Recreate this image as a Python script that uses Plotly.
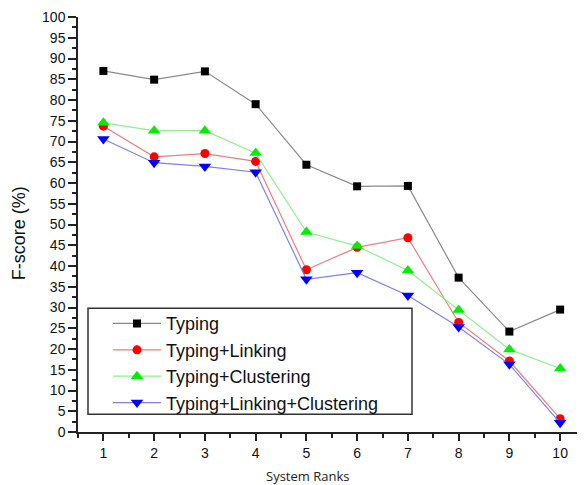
import plotly.graph_objects as go

ranks = [1, 2, 3, 4, 5, 6, 7, 8, 9, 10]
typing = [87.0, 84.9, 86.9, 79.0, 64.4, 59.2, 59.3, 37.2, 24.2, 29.5]
typing_linking = [73.7, 66.3, 67.1, 65.2, 39.1, 44.5, 46.8, 26.4, 17.1, 3.2]
typing_clustering = [74.5, 72.6, 72.6, 67.2, 48.2, 44.8, 38.9, 29.4, 19.9, 15.3]
typing_linking_clustering = [70.6, 64.9, 64.0, 62.6, 36.8, 38.4, 32.9, 25.3, 16.3, 2.2]

names = ["Typing", "Typing+Linking", "Typing+Clustering", "Typing+Linking+Clustering"]
series = [typing, typing_linking, typing_clustering, typing_linking_clustering]
marker_colors = ["#000000", "#ff0000", "#00ee00", "#0000ff"]
line_colors = ["#8a8a8a", "#e88080", "#90ee90", "#8080e8"]
symbols = ["square", "circle", "triangle-up", "triangle-down"]
sizes = [8, 9, 11, 11]

# page body adds an 8px margin; compensate so the plot lands on the reference pixels
OFF = 8
L, T = 78 - OFF, 17 - OFF
PW, PH = 507, 414.7
W, H = 585 - OFF, 485 - OFF
B = H - T - PH


def px_x(x):
    return (x - OFF - L) / PW


def px_y(y):
    return (T + PH - (y - OFF)) / PH


fig = go.Figure()
for n, s, mc, lc, sym, sz in zip(names, series, marker_colors, line_colors, symbols, sizes):
    fig.add_trace(go.Scatter(
        x=ranks, y=s, name=n, mode="lines+markers",
        line=dict(color=lc, width=1.2),
        marker=dict(symbol=sym, size=sz, color=mc, line=dict(width=0)),
    ))

fig.add_shape(type="rect", xref="paper", yref="paper",
              x0=px_x(88), x1=px_x(412), y0=px_y(414), y1=px_y(308),
              line=dict(color="#333333", width=1.5), fillcolor="white", layer="above")

fig.add_annotation(text="System Ranks", xref="paper", yref="paper",
                   x=px_x(307), y=px_y(476),
                   xanchor="center", yanchor="middle", showarrow=False,
                   font=dict(family="Open Sans", size=13, color="#222222"))

fig.add_annotation(text="F-score (%)", xref="paper", yref="paper",
                   x=px_x(19), y=px_y(233), textangle=-90,
                   xanchor="center", yanchor="middle", showarrow=False,
                   font=dict(family="Liberation Sans, Arial", size=18, color="#111111"))

fig.update_layout(
    width=W, height=H,
    margin=dict(l=L, r=0, t=T, b=B, pad=0),
    plot_bgcolor="white", paper_bgcolor="white",
    font=dict(family="Liberation Sans, Arial", color="#111111"),
    showlegend=True,
    legend=dict(
        x=px_x(108), y=px_y(305), xanchor="left", yanchor="top",
        bgcolor="rgba(0,0,0,0)", borderwidth=0,
        font=dict(family="Liberation Sans, Arial", size=18, color="#111111"),
        itemwidth=48, tracegroupgap=0,
    ),
    xaxis=dict(
        range=[0.5, 10.49], tickmode="array", tickvals=ranks,
        ticks="outside", ticklen=7, tickwidth=1.5, tickcolor="#222222",
        showline=True, linecolor="#222222", linewidth=1.5,
        showgrid=False, zeroline=False,
        tickfont=dict(size=14),
        minor=dict(dtick=0.5, tick0=0.5, ticks="outside", ticklen=4, tickwidth=1.5, tickcolor="#222222", showgrid=False),
    ),
    yaxis=dict(
        range=[0, 100], tick0=0, dtick=5,
        ticks="outside", ticklen=8, tickwidth=1.5, tickcolor="#222222",
        showline=True, linecolor="#222222", linewidth=1.5,
        showgrid=False, zeroline=False,
        tickfont=dict(size=14),
        minor=dict(dtick=2.5, tick0=0, ticks="outside", ticklen=4, tickwidth=1.5, tickcolor="#222222", showgrid=False),
    ),
)

fig.write_html("out.html")
